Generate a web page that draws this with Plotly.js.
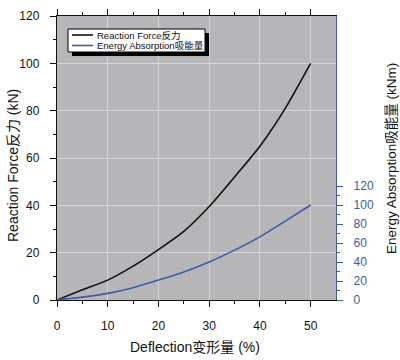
<!DOCTYPE html>
<html>
<head>
<meta charset="utf-8">
<script src="https://cdn.plot.ly/plotly-3.0.1.min.js"></script>
<style>html,body{margin:0;padding:0;background:#fff;}#chart{width:400px;height:360px;}</style>
</head>
<body>
<div id="chart"></div>
<script>
// ---- data ----
const deflection = [0, 5, 10, 15, 20, 25, 30, 35, 40, 45, 50];
const reactionForce = [0, 4.3, 8.4, 14.3, 21.3, 29, 39.5, 52, 65, 81, 100];
const energyAbsorption = [0, 3, 7, 13, 21, 29.5, 40, 52.5, 66.5, 83, 100];
const seriesNames = ["Reaction Force反力", "Energy Absorption吸能量"];
const xTicks = [0, 10, 20, 30, 40, 50];
const xMinor = [5, 15, 25, 35, 45];
const yTicks = [0, 20, 40, 60, 80, 100, 120];
const yMinor = [10, 30, 50, 70, 90, 110];
const y2Ticks = [0, 20, 40, 60, 80, 100, 120];
const y2Minor = [10, 30, 50, 70, 90, 110];
const xTitle = "Deflection变形量 (%)";
const yTitle = "Reaction Force反力 (kN)";
const y2Title = "Energy Absorption吸能量 (kNm)";

// ---- style ----
const BLUE = "#3d5ca6";
const FONT = "Liberation Sans, Arial, Noto Sans CJK SC, sans-serif";
const M = {l: 57, r: 64, t: 16, b: 60};
const W = 400, H = 360;
const PW = W - M.l - M.r, PH = H - M.t - M.b;
const px = x => (x - M.l) / PW;          // pixel -> paper
const py = y => (H - M.b - y) / PH;

const traces = [
  {x: deflection, y: reactionForce, name: seriesNames[0], type: "scatter", mode: "lines",
   line: {color: "#111", width: 1.6, shape: "spline", smoothing: 0.6}, yaxis: "y", showlegend: false},
  {x: deflection, y: energyAbsorption, name: seriesNames[1], type: "scatter", mode: "lines",
   line: {color: BLUE, width: 1.6, shape: "spline", smoothing: 0.6}, yaxis: "y2", showlegend: false}
];

const legendShapes = [
  {type: "rect", xref: "paper", yref: "paper", x0: px(72), x1: px(209), y0: py(56), y1: py(33),
   fillcolor: "#000", line: {width: 0}, layer: "above"},
  {type: "rect", xref: "paper", yref: "paper", x0: px(68), x1: px(205), y0: py(52), y1: py(29),
   fillcolor: "#fff", line: {color: "#000", width: 1}, layer: "above"},
  {type: "line", xref: "paper", yref: "paper", x0: px(72), x1: px(93), y0: py(35), y1: py(35),
   line: {color: "#111", width: 1.6}, layer: "above"},
  {type: "line", xref: "paper", yref: "paper", x0: px(72), x1: px(93), y0: py(45.5), y1: py(45.5),
   line: {color: BLUE, width: 1.6}, layer: "above"}
];

const annotations = [
  {text: seriesNames[0], xref: "paper", yref: "paper", x: px(95), y: py(35), xanchor: "left", yanchor: "middle",
   showarrow: false, font: {family: FONT, size: 9.5, color: "#111"}},
  {text: seriesNames[1], xref: "paper", yref: "paper", x: px(95), y: py(45.5), xanchor: "left", yanchor: "middle",
   showarrow: false, font: {family: FONT, size: 9.5, color: "#111"}},
  {text: yTitle, xref: "paper", yref: "paper", x: px(13), y: py(166), xanchor: "center", yanchor: "middle",
   textangle: -90, showarrow: false, font: {family: FONT, size: 14, color: "#111"}},
  {text: y2Title, xref: "paper", yref: "paper", x: px(391), y: py(159), xanchor: "center", yanchor: "middle",
   textangle: -90, showarrow: false, font: {family: FONT, size: 13.5, color: "#111"}},
  {text: xTitle, xref: "paper", yref: "paper", x: px(195), y: py(347), xanchor: "center", yanchor: "middle",
   showarrow: false, font: {family: FONT, size: 14, color: "#111"}}
];

const layout = {
  width: W, height: H,
  margin: M,
  paper_bgcolor: "#fff",
  plot_bgcolor: "#b6b6b9",
  showlegend: false,
  font: {family: FONT, size: 12, color: "#111"},
  xaxis: {
    range: [0, 55], tickmode: "array", tickvals: xTicks,
    ticks: "outside", ticklen: 6, tickwidth: 1, tickcolor: "#111",
    showline: true, linecolor: "#111", linewidth: 1.2, mirror: "ticks",
    showgrid: true, gridcolor: "#d6d6d8", gridwidth: 1, zeroline: false,
    ticklabelstandoff: 8,
    minor: {tickmode: "array", tickvals: xMinor, ticks: "outside", ticklen: 3, tickcolor: "#111", showgrid: false},
    tickfont: {family: FONT, size: 12, color: "#111"}
  },
  yaxis: {
    range: [0, 120], tickmode: "array", tickvals: yTicks,
    ticks: "outside", ticklen: 6, tickwidth: 1, tickcolor: "#111",
    showline: true, linecolor: "#111", linewidth: 1.2, mirror: false,
    showgrid: true, gridcolor: "#d6d6d8", gridwidth: 1, zeroline: false,
    ticklabelstandoff: 8,
    minor: {tickmode: "array", tickvals: yMinor, ticks: "outside", ticklen: 3, tickcolor: "#111", showgrid: false},
    tickfont: {family: FONT, size: 12, color: "#111"}
  },
  yaxis2: {
    overlaying: "y", side: "right",
    range: [0, 299], tickmode: "array", tickvals: y2Ticks,
    ticks: "outside", ticklen: 6, tickwidth: 1, tickcolor: BLUE,
    showline: true, linecolor: BLUE, linewidth: 1.2,
    showgrid: false, zeroline: false,
    ticklabelstandoff: 8,
    minor: {tickmode: "array", tickvals: y2Minor, ticks: "outside", ticklen: 3, tickcolor: BLUE, showgrid: false},
    tickfont: {family: FONT, size: 12, color: BLUE}
  },
  shapes: legendShapes,
  annotations: annotations
};

Plotly.newPlot("chart", traces, layout, {staticPlot: true, displayModeBar: false});
</script>
</body>
</html>
